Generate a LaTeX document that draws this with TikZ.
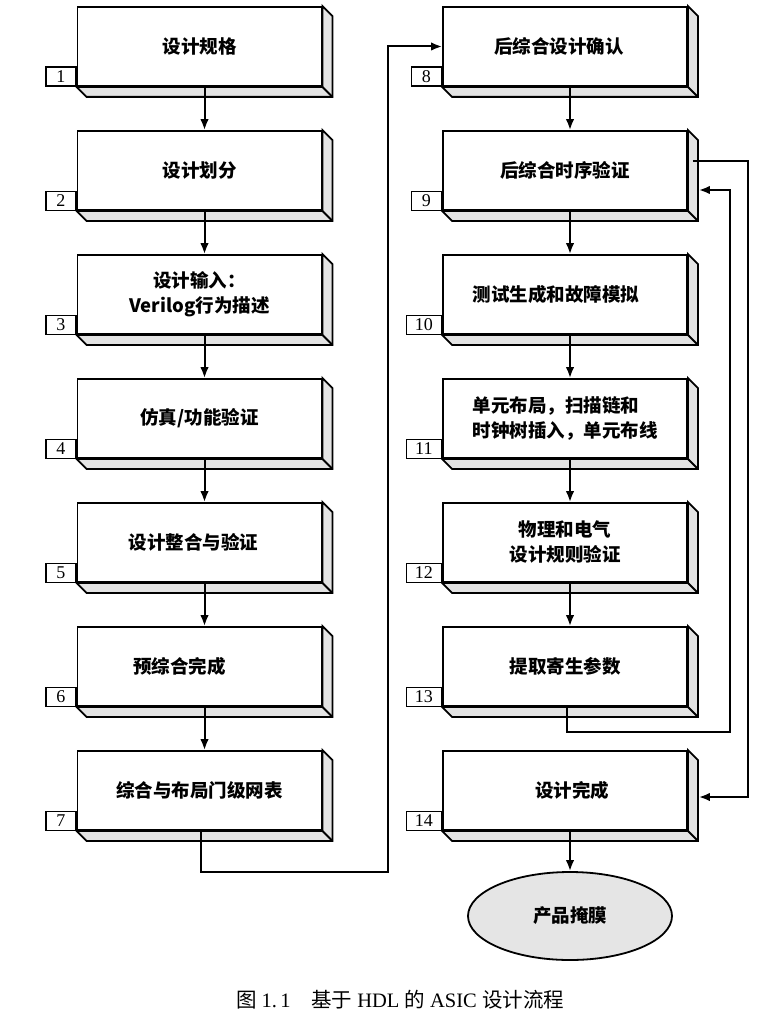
\documentclass[tikz,border=0pt]{standalone}
\usepackage{fontspec}
\setmainfont{Liberation Serif}
\newfontfamily\cjk{Noto Sans CJK SC}
\usetikzlibrary{calc,arrows.meta,shapes.geometric}
\newcommand\depthface[1]{%
  \draw[depth] (#1.north east) -- ++(10,10) -- ($(#1.south east)+(10,10)$) -- ($(#1.south west)+(10,10)$) -- (#1.south west) -- (#1.south east) -- cycle;
  \draw[depth] (#1.south east) -- ++(10,10);}
\begin{document}
\begin{tikzpicture}[x=1pt,y=-1pt,
  face/.style={draw,line width=1.8pt,fill=white,minimum width=244pt,minimum height=79pt,inner sep=0pt},
  numbox/.style={draw,line width=1.4pt,fill=white,minimum height=19pt,minimum width=30pt,inner sep=0pt,anchor=south east,font=\fontsize{18}{18}\selectfont},
  wide/.style={minimum width=35pt},
  txt/.style={font=\cjk\bfseries\fontsize{18.5}{25}\selectfont,align=center,inner sep=0pt},
  arr/.style={line width=2pt,-{Latex[length=11pt,width=8.5pt]}},
  depth/.style={draw,line width=1.8pt,fill=gray!22},
  oval/.style={ellipse,draw,line width=1.8pt,fill=gray!20,minimum width=204pt,minimum height=88pt,inner sep=0pt},
]
\useasboundingbox (0,0) rectangle (780,1014);

% front faces
\foreach \i/\x/\y in {1/199.5/46.5,2/199.5/170.5,3/199.5/294.5,4/199.5/418.5,5/199.5/542.5,6/199.5/666.5,7/199.5/790.5,
                      8/565/46.5,9/565/170.5,10/565/294.5,11/565/418.5,12/565/542.5,13/565/666.5,14/565/790.5}{
  \node[face] (b\i) at (\x,\y) {};
  \depthface{b\i}
}

% number labels
\foreach \i in {1,...,9}{\node[numbox] (n\i) at (b\i.south west) {\i};}
\foreach \i in {10,...,14}{\node[numbox,wide] (n\i) at (b\i.south west) {\i};}

% texts
\node[txt] (t1) at (b1) {设计规格};
\node[txt] (t2) at (b2) {设计划分};
\node[txt] (t3) at (b3) {设计输入：\\Verilog行为描述};
\node[txt] (t4) at (b4) {仿真/功能验证};
\node[txt,xshift=-6pt] (t5) at (b5) {设计整合与验证};
\node[txt,xshift=-20pt] (t6) at (b6) {预综合完成};
\node[txt] (t7) at (b7) {综合与布局门级网表};
\node[txt,xshift=-6pt] (t8) at (b8) {后综合设计确认};
\node[txt] (t9) at (b9) {后综合时序验证};
\node[txt,xshift=-9pt] (t10) at (b10) {测试生成和故障模拟};
\node[txt,align=left] (t11) at (b11) {单元布局，扫描链和\\时钟树插入，单元布线};
\node[txt] (t12) at (b12) {物理和电气\\设计规则验证};
\node[txt] (t13) at (b13) {提取寄生参数};
\node[txt,xshift=7pt] (t14) at (b14) {设计完成};

% ellipse
\node[oval] (e) at (570,916) {\cjk\bfseries\fontsize{18.5}{22}\selectfont 产品掩膜};

% caption
\node[inner sep=0pt,font=\fontsize{20.5}{24}\selectfont] (cap) at (400,1000)
  {{\cjk 图}\ 1.\,1\quad{\cjk 基于}\ HDL\ {\cjk 的}\ ASIC\ {\cjk 设计流程}};

% straight arrows
\foreach \a/\b in {1/2,2/3,3/4,4/5,5/6,6/7,8/9,9/10,10/11,11/12,12/13}{
  \draw[arr] ([xshift=5pt]b\a.south) -- ([xshift=5pt]b\b.north);
}
\draw[arr] ([xshift=5pt]b14.south) -- (e.north);

% 7 -> 8
\coordinate (c78) at (388,872);
\draw[arr] ([xshift=1.5pt]b7.south) |- (c78) |- (b8.west);

% 9 -> 14 loop
\coordinate (r1) at (748,161);
\coordinate (r2) at (748,797);
\draw[arr] ($(b9.east)+(5,-9.5)$) -- (r1) -- (r2) -- ($(b14.east)+(11,6.5)$);

% 13 -> 9 feedback
\coordinate (f1) at (730,732);
\draw[arr] ([xshift=2pt]b13.south) |- (f1) |- ($(b9.east)+(11,19.5)$);
\end{tikzpicture}
\end{document}
